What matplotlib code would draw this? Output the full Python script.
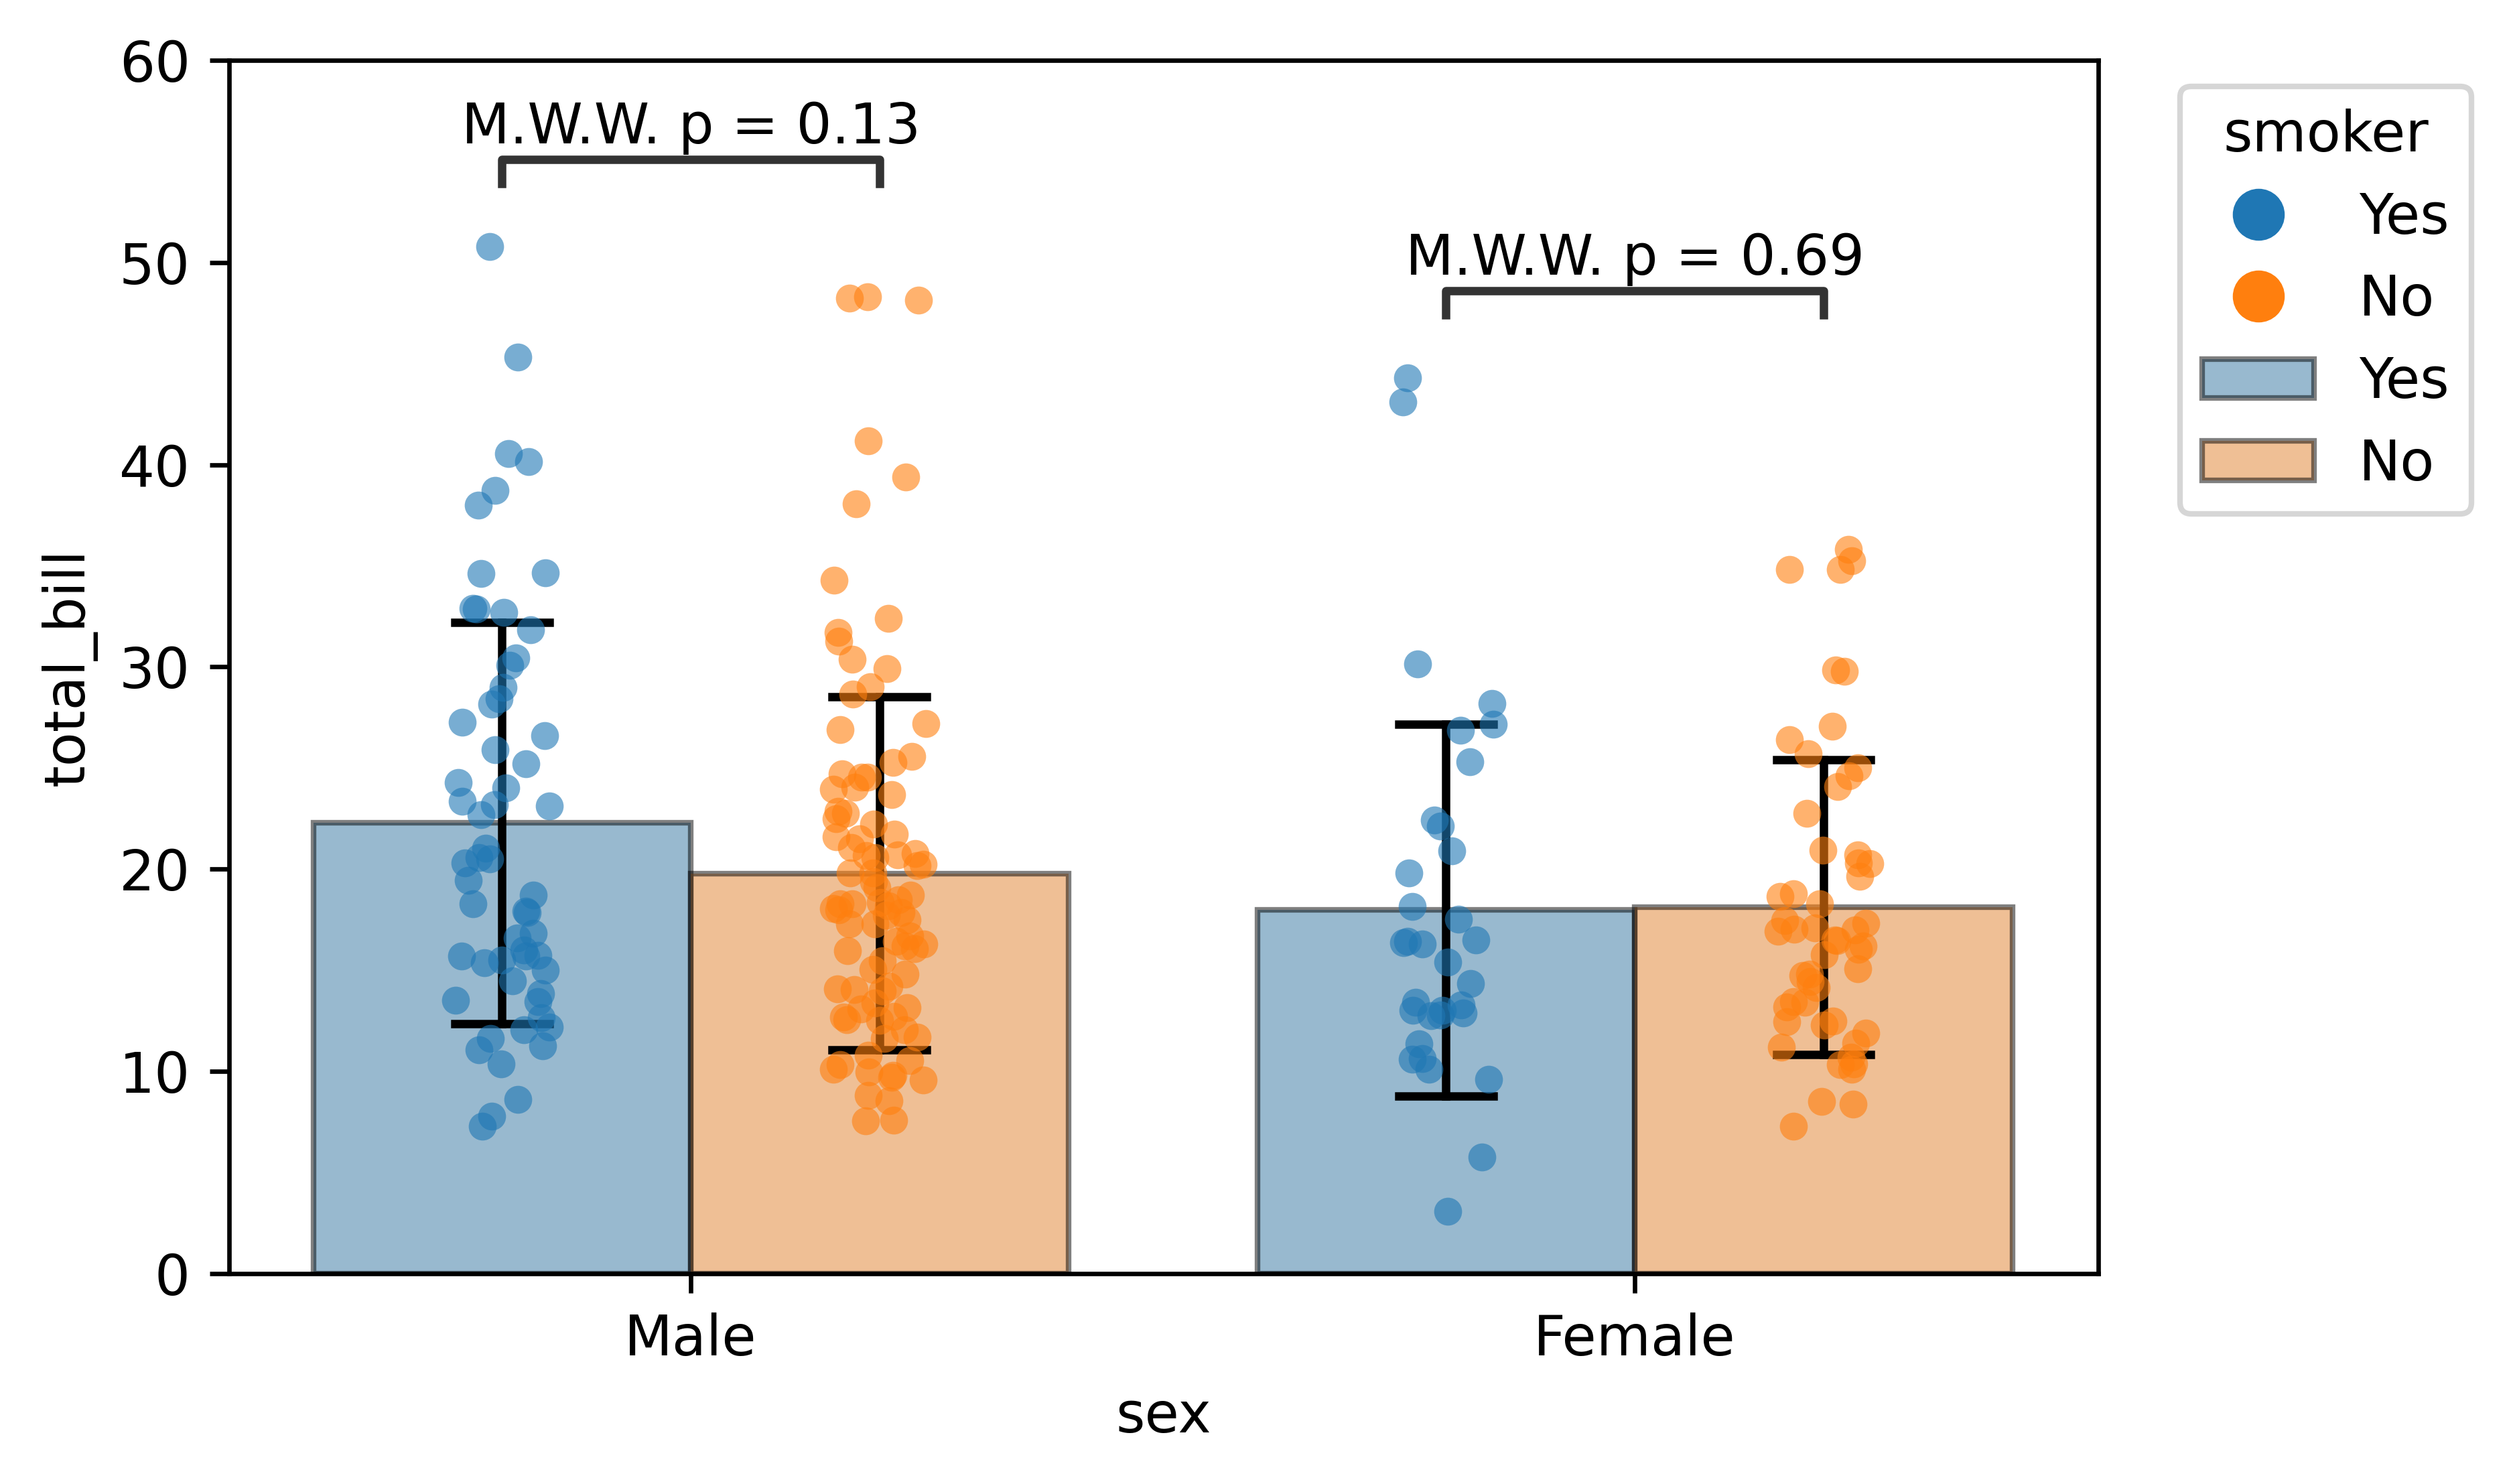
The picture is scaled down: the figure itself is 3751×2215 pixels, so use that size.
import matplotlib.pyplot as plt
from matplotlib.lines import Line2D
from matplotlib.patches import Patch

sexes = ["Male", "Female"]
smokers = ["Yes", "No"]

# bar heights (mean total_bill) and standard deviations, order: Male, Female
mean_yes = [22.28, 17.98]
mean_no = [19.79, 18.11]
sd_yes = [9.91, 9.19]
sd_no = [8.73, 7.29]

# Mann-Whitney p-values per sex
pvals = ["0.13", "0.69"]

# individual bills with their jitter offsets
male_yes_bill = [50.8, 45.33, 40.54, 40.16, 38.72, 38.0, 34.63, 34.64, 32.9, 32.85,
                 32.69, 31.85, 30.45, 30.07, 29.0, 28.44, 28.16, 27.28, 26.59, 25.89,
                 25.21, 24.28, 24.02, 23.34, 23.11, 23.19, 22.68, 21.03, 20.56, 20.49,
                 20.31, 19.45, 18.30, 18.71, 17.92, 17.86, 16.83, 16.60, 16.01, 15.70,
                 15.72, 15.70, 15.37, 15.49, 15.02, 14.49, 13.85, 13.45, 13.53, 12.64,
                 12.19, 12.05, 11.26, 11.61, 11.05, 10.36, 8.61, 7.78, 7.27]
male_yes_jit = [-0.013, 0.017, 0.007, 0.028, -0.007, -0.025, -0.022, 0.046, -0.031, -0.027,
                0.002, 0.030, 0.015, 0.008, 0.001, -0.003, -0.011, -0.042, 0.045, -0.007,
                0.025, -0.046, 0.004, -0.042, 0.050, -0.008, -0.022, -0.017, -0.024, -0.013,
                -0.039, -0.036, -0.031, 0.033, 0.025, 0.027, 0.033, 0.016, 0.023, 0.025,
                0.038, -0.043, -0.019, 0.000, 0.046, 0.011, 0.041, 0.038, -0.049, 0.042,
                0.050, 0.023, 0.043, -0.012, -0.024, -0.001, 0.017, -0.011, -0.021]

male_no_bill = [48.25, 48.31, 48.15, 41.19, 39.4, 38.06, 34.29, 32.4, 31.71, 31.26,
                30.39, 29.92, 29.03, 28.67, 26.89, 27.2, 25.28, 25.56, 24.71, 24.56,
                24.56, 23.95, 24.06, 23.69, 22.85, 22.76, 22.5, 22.24, 21.73, 21.59,
                21.51, 21.06, 20.68, 20.57, 20.69, 20.78, 20.16, 20.23, 19.81, 19.81,
                19.38, 19.08, 18.71, 18.47, 18.29, 18.27, 18.05, 17.98, 18.35, 18.17,
                17.86, 17.71, 17.48, 17.28, 17.28, 16.42, 16.71, 16.31, 16.07, 16.19,
                15.96, 15.46, 15.05, 14.82, 14.21, 14.09, 14.03, 13.98, 13.37, 13.15,
                13.07, 12.72, 12.69, 12.57, 12.51, 12.05, 11.62, 11.70, 10.80, 10.53,
                10.33, 10.10, 9.98, 9.80, 9.72, 9.57, 8.81, 8.54, 7.55, 7.59]
male_no_jit = [-0.032, -0.013, 0.041, -0.012, 0.028, -0.025, -0.048, 0.009, -0.044, -0.043,
               -0.029, 0.008, -0.010, -0.028, -0.042, 0.049, 0.014, 0.034, -0.040, -0.019,
               -0.013, -0.049, -0.026, 0.013, -0.044, -0.036, -0.046, -0.006, 0.016, -0.046,
               -0.021, -0.030, -0.014, -0.005, 0.019, 0.038, 0.040, 0.046, -0.031, -0.007,
               -0.006, -0.003, 0.033, 0.020, -0.042, -0.029, -0.049, -0.043, 0.001, 0.009,
               0.023, 0.007, 0.029, -0.032, -0.005, 0.018, 0.032, 0.047, 0.037, 0.027,
               -0.034, 0.003, -0.007, 0.027, 0.010, -0.045, -0.027, 0.003, -0.005, 0.029,
               -0.020, 0.015, -0.038, -0.035, 0.000, 0.026, 0.005, 0.040, -0.012, 0.032,
               -0.042, -0.049, -0.011, 0.014, 0.013, 0.046, -0.012, 0.010, -0.015, 0.015]

female_yes_bill = [44.30, 43.09, 30.14, 28.18, 27.18, 26.88, 25.30, 22.43, 22.13, 20.91,
                   19.81, 18.15, 17.52, 16.48, 16.35, 16.42, 16.29, 15.40, 14.34, 13.43,
                   13.02, 12.74, 13.02, 12.77, 13.27, 12.89, 11.37, 10.61, 10.64, 10.11,
                   9.62, 5.77, 3.09]
female_yes_jit = [-0.041, -0.046, -0.030, 0.049, 0.050, 0.015, 0.025, -0.012, -0.006, 0.006,
                  -0.039, -0.036, 0.013, 0.032, -0.045, -0.041, -0.025, 0.002, 0.026, -0.032,
                  -0.035, -0.016, -0.004, -0.006, 0.016, 0.018, -0.029, -0.036, -0.025, -0.018,
                  0.045, 0.038, 0.002]

female_no_bill = [35.82, 35.25, 34.83, 34.81, 29.85, 29.79, 27.05, 26.41, 25.72, 25.0,
                  24.60, 24.08, 22.76, 20.92, 20.70, 20.31, 20.27, 19.66, 18.65, 18.79,
                  18.27, 17.47, 16.94, 17.02, 17.08, 16.99, 17.33, 16.50, 16.46, 16.21,
                  16.02, 15.77, 15.08, 14.74, 14.80, 14.45, 14.15, 13.44, 13.18, 13.41,
                  12.44, 12.28, 12.50, 11.88, 11.40, 11.18, 10.69, 10.34, 10.37, 10.10,
                  8.52, 8.37, 7.27]
female_no_jit = [0.026, 0.030, -0.036, 0.018, 0.013, 0.022, 0.009, -0.036, -0.016, 0.036,
                 0.027, 0.015, -0.018, -0.001, 0.036, 0.037, 0.049, 0.038, -0.046, -0.032,
                 -0.004, -0.041, -0.048, -0.031, -0.009, 0.033, 0.045, 0.012, 0.014, 0.042,
                 0.037, 0.001, 0.036, -0.022, -0.015, -0.014, -0.008, -0.032, -0.039, -0.020,
                 -0.039, 0.001, 0.010, 0.045, 0.034, -0.045, 0.029, 0.018, 0.032, 0.030,
                 -0.002, 0.031, -0.032]

dot_color = {"Yes": "#1f77b4", "No": "#ff7f0e"}
bar_color = {"Yes": "#3274a1", "No": "#e1812c"}
hue_off = {"Yes": -0.2, "No": 0.2}

fig = plt.figure(figsize=(3751 / 600, 2215 / 600), dpi=600)
ax = fig.add_axes([0.0912, 0.1418, 0.7438, 0.8176])

means = {"Yes": mean_yes, "No": mean_no}
sds = {"Yes": sd_yes, "No": sd_no}
for sm in smokers:
    xs = [i + hue_off[sm] for i in range(len(sexes))]
    ax.bar(xs, means[sm], width=0.4, color=bar_color[sm], alpha=0.5,
           edgecolor="black", linewidth=1, zorder=1)
    for x, m, s in zip(xs, means[sm], sds[sm]):
        ax.plot([x, x], [m - s, m + s], color="black", lw=1.5, zorder=2)
        ax.plot([x - 0.05, x + 0.05], [m + s, m + s], color="black", lw=1.5, zorder=2)
        ax.plot([x - 0.05, x + 0.05], [m - s, m - s], color="black", lw=1.5, zorder=2)

strips = [(0, "Yes", male_yes_bill, male_yes_jit),
          (0, "No", male_no_bill, male_no_jit),
          (1, "Yes", female_yes_bill, female_yes_jit),
          (1, "No", female_no_bill, female_no_jit)]
for i, sm, bills, jit in strips:
    xs = [i + hue_off[sm] + j for j in jit]
    ax.scatter(xs, bills, s=25, color=dot_color[sm], alpha=0.6, linewidths=0, zorder=3)

# significance brackets
bracket_low = [53.9, 47.4]
for i, p in enumerate(pvals):
    x1, x2 = i - 0.2, i + 0.2
    y0 = bracket_low[i]
    y1 = y0 + 1.2
    ax.plot([x1, x1, x2, x2], [y0, y1, y1, y0], color="0.2", lw=1.5, zorder=4)
    ax.annotate(f"M.W.W. p = {p}", xy=((x1 + x2) / 2, y1), xytext=(0, 0.8),
                textcoords="offset points", ha="center", va="bottom", fontsize=10)

ax.set_xlim(-0.489, 1.491)
ax.set_ylim(0, 60)
ax.set_xticks(range(len(sexes)))
ax.set_xticklabels(sexes)
ax.set_xlabel("sex")
ax.set_ylabel("total_bill")

handles = [Line2D([], [], marker="o", ls="", color=dot_color["Yes"], markersize=8.3),
           Line2D([], [], marker="o", ls="", color=dot_color["No"], markersize=8.3),
           Patch(facecolor=bar_color["Yes"], edgecolor="black", alpha=0.5, linewidth=1),
           Patch(facecolor=bar_color["No"], edgecolor="black", alpha=0.5, linewidth=1)]
ax.legend(handles, ["Yes", "No", "Yes", "No"], title="smoker", loc="upper left",
          bbox_to_anchor=(3254 / 3751, 1 - 128.7 / 2215), bbox_transform=fig.transFigure,
          borderaxespad=0)

fig.savefig("out.png", dpi=600)
plt.close(fig)
